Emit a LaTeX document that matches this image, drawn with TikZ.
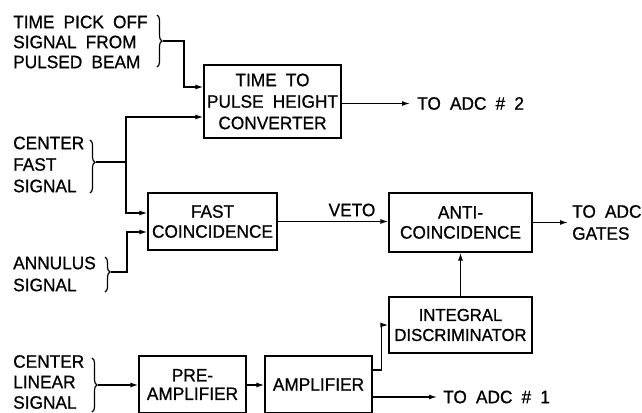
\documentclass[tikz,border=0pt]{standalone}
\usepackage{fontspec}
\setmainfont{Liberation Sans}[FakeStretch=0.96,FakeBold=0.8,WordSpace=1.9]
\usetikzlibrary{arrows.meta,decorations.pathreplacing}
\begin{document}
\begin{tikzpicture}[x=1pt,y=-1pt,
  every node/.style={font=\fontsize{18}{20}\selectfont},
  blk/.style={draw,line width=1.3pt,align=center,inner sep=0pt},
  lbl/.style={align=left,inner sep=0pt,anchor=west},
  wire/.style={line width=1.3pt},
  arr/.style={wire,-{Latex[length=8pt,width=5pt]}},
  brc/.style={line width=1.2pt,decorate,decoration={brace,amplitude=5pt,aspect=#1}},
  brc/.default=0.5]
\useasboundingbox (0,0) rectangle (642,412);

% blocks
\node[blk,font=\fontsize{18}{21.5}\selectfont,minimum width=137pt,minimum height=73pt] (tphc) at (272.5,101.5) {TIME TO\\PULSE HEIGHT\\CONVERTER};
\node[blk,minimum width=129pt,minimum height=57pt] (fc) at (212.5,221.5) {FAST\\COINCIDENCE};
\node[blk,minimum width=143pt,minimum height=59pt] (ac) at (460.5,222.5) {ANTI-\\COINCIDENCE};
\node[blk,font=\fontsize{17.4}{20}\selectfont,minimum width=143pt,minimum height=56pt] (id) at (460.5,325) {INTEGRAL\\DISCRIMINATOR};
\node[blk,font=\fontsize{18}{18.5}\selectfont,minimum width=107pt,minimum height=57pt] (pre) at (192.5,384.5) {PRE-\\AMPLIFIER};
\node[blk,minimum width=107pt,minimum height=57pt] (amp) at (318.5,384.5) {AMPLIFIER};

% input labels
\node[lbl] (tpo) at (13,42) {TIME PICK OFF\\SIGNAL FROM\\PULSED BEAM};
\node[lbl,font=\fontsize{18}{21.5}\selectfont] (cfs) at (13,164.5) {CENTER\\FAST\\SIGNAL};
\node[lbl,font=\fontsize{18}{22}\selectfont] (ann) at (13,274) {ANNULUS\\SIGNAL};
\node[lbl,font=\fontsize{18}{20.5}\selectfont] (cls) at (13,382) {CENTER\\LINEAR\\SIGNAL};

% output labels
\node[lbl] (adc2) at (417,103.5) {TO ADC \# 2};
\node[lbl,font=\fontsize{18}{22}\selectfont] (gates) at (572,222.5) {TO ADC\\GATES};
\node[lbl] (adc1) at (443,397) {TO ADC \# 1};
\node[inner sep=0pt] (veto) at (352,210) {VETO};

% braces
\draw[brc] (157,15) -- (157,67);
\draw[brc=0.42] (90,140) -- (90,193);
\draw[brc=0.43] (105,257) -- (105,292);
\draw[brc] (92,358) -- (92,412);

\coordinate (b1) at (163,41);
\coordinate (b2) at (96,162);
\coordinate (j2) at (126,162);
\coordinate (b3) at (111,272);
\coordinate (b4) at (98,385);

% connectors
\draw[arr] (b1) -- ++(21,0) |- ([yshift=14.5pt]tphc.west);
\draw[wire] (b2) -- (j2);
\draw[arr] (j2) |- ([yshift=-15.5pt]tphc.west);
\draw[arr] (j2) |- ([yshift=8.5pt]fc.west);
\draw[arr] (b3) -- ++(16,0) |- ([yshift=-10.5pt]fc.west);
\draw[arr] (b4) -- (b4 -| pre.west);
\draw[arr] (pre.east |- b4) -- (amp.west |- b4);
\draw[arr] ([yshift=14.5pt]amp.east) -- ++(9,0) |- (id.west);
\draw[arr] ([yshift=-12.5pt]amp.east) -- ([xshift=-6pt]adc1.west);
\draw[arr] (id.north) -- (ac.south);
\draw[arr] (fc.east) -- (fc.east -| ac.west);
\draw[arr] (ac.east) -- ([xshift=-4pt]gates.west);
\draw[arr] (tphc.east |- adc2.west) -- ([xshift=-7pt]adc2.west);
\end{tikzpicture}
\end{document}
